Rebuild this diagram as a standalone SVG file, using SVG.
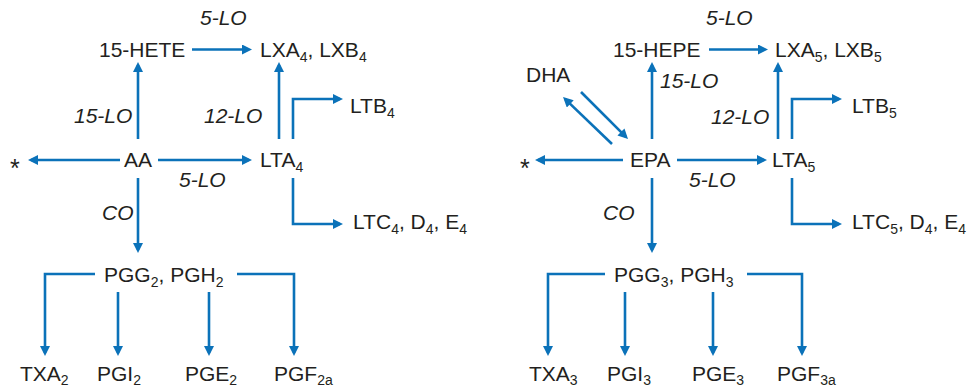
<svg xmlns="http://www.w3.org/2000/svg" width="973" height="388" viewBox="0 0 973 388">
  <style>
    .t { font-family: "Liberation Sans", Arial, sans-serif; font-size: 21px; fill: #231f20; }
    .e { font-family: "Liberation Sans", Arial, sans-serif; font-size: 21px; font-style: italic; fill: #231f20; }
    .a { font-family: "Liberation Sans", Arial, sans-serif; font-size: 25px; fill: #231f20; }
    .s { font-size: 14px; }
    .c { fill: none; stroke: #0b72b9; stroke-width: 2.6; marker-end: url(#ah); }
  </style>
  <defs>
    <marker id="ah" viewBox="0 0 10 10" markerWidth="10" markerHeight="10" markerUnits="userSpaceOnUse" refX="7" refY="5" orient="auto">
      <path d="M0,0 L10,5 L0,10 z" fill="#0b72b9"/>
    </marker>
  </defs>

  <!-- arachidonic acid (n-6) series -->
  <g id="n-aa"><text class="t" x="124" y="167">AA</text></g>
  <g id="n-star1"><text class="a" x="10" y="177">*</text></g>
  <g id="n-15hete"><text class="t" x="99" y="57">15-HETE</text></g>
  <g id="n-lxa4"><text class="t" x="260" y="57">LXA<tspan class="s" dy="5">4</tspan><tspan dy="-5">, LXB</tspan><tspan class="s" dy="5">4</tspan></text></g>
  <g id="n-lta4"><text class="t" x="260" y="167">LTA<tspan class="s" dy="5">4</tspan></text></g>
  <g id="n-ltb4"><text class="t" x="350" y="113">LTB<tspan class="s" dy="5">4</tspan></text></g>
  <g id="n-ltc4"><text class="t" x="353" y="229">LTC<tspan class="s" dy="5">4</tspan><tspan dy="-5">, D</tspan><tspan class="s" dy="5">4</tspan><tspan dy="-5">, E</tspan><tspan class="s" dy="5">4</tspan></text></g>
  <g id="n-pgg2"><text class="t" x="104" y="282">PGG<tspan class="s" dy="5">2</tspan><tspan dy="-5">, PGH</tspan><tspan class="s" dy="5">2</tspan></text></g>
  <g id="n-txa2"><text class="t" x="20" y="381">TXA<tspan class="s" dy="4">2</tspan></text></g>
  <g id="n-pgi2"><text class="t" x="97" y="381">PGI<tspan class="s" dy="4">2</tspan></text></g>
  <g id="n-pge2"><text class="t" x="185" y="381">PGE<tspan class="s" dy="4">2</tspan></text></g>
  <g id="n-pgf2a"><text class="t" x="274" y="381">PGF<tspan class="s" dy="4">2a</tspan></text></g>

  <!-- eicosapentaenoic acid (n-3) series -->
  <g id="n-epa"><text class="t" x="630" y="167">EPA</text></g>
  <g id="n-star2"><text class="a" x="520" y="177">*</text></g>
  <g id="n-dha"><text class="t" x="526" y="82">DHA</text></g>
  <g id="n-15hepe"><text class="t" x="613" y="57">15-HEPE</text></g>
  <g id="n-lxa5"><text class="t" x="775" y="57">LXA<tspan class="s" dy="5">5</tspan><tspan dy="-5">, LXB</tspan><tspan class="s" dy="5">5</tspan></text></g>
  <g id="n-lta5"><text class="t" x="772" y="167">LTA<tspan class="s" dy="5">5</tspan></text></g>
  <g id="n-ltb5"><text class="t" x="852" y="113">LTB<tspan class="s" dy="5">5</tspan></text></g>
  <g id="n-ltc5"><text class="t" x="852" y="229">LTC<tspan class="s" dy="5">5</tspan><tspan dy="-5">, D</tspan><tspan class="s" dy="5">4</tspan><tspan dy="-5">, E</tspan><tspan class="s" dy="5">4</tspan></text></g>
  <g id="n-pgg3"><text class="t" x="614" y="282">PGG<tspan class="s" dy="5">3</tspan><tspan dy="-5">, PGH</tspan><tspan class="s" dy="5">3</tspan></text></g>
  <g id="n-txa3"><text class="t" x="529" y="381">TXA<tspan class="s" dy="4">3</tspan></text></g>
  <g id="n-pgi3"><text class="t" x="607" y="381">PGI<tspan class="s" dy="4">3</tspan></text></g>
  <g id="n-pge3"><text class="t" x="692" y="381">PGE<tspan class="s" dy="4">3</tspan></text></g>
  <g id="n-pgf3a"><text class="t" x="777" y="381">PGF<tspan class="s" dy="4">3a</tspan></text></g>

  <!-- enzyme labels -->
  <g id="labels">
    <text class="e" x="200" y="25">5-LO</text>
    <text class="e" x="74" y="123">15-LO</text>
    <text class="e" x="204" y="123">12-LO</text>
    <text class="e" x="179" y="187">5-LO</text>
    <text class="e" x="102" y="220">CO</text>
    <text class="e" x="706" y="25">5-LO</text>
    <text class="e" x="660" y="88">15-LO</text>
    <text class="e" x="711" y="124">12-LO</text>
    <text class="e" x="689" y="187">5-LO</text>
    <text class="e" x="603" y="220">CO</text>
  </g>

  <!-- connectors -->
  <g id="connectors">
    <!-- left series -->
    <path class="c" d="M192,49.5 H249"/>
    <path class="c" d="M138,139 V65"/>
    <path class="c" d="M279,139 V65"/>
    <path class="c" d="M293,139 V99 H340"/>
    <path class="c" d="M120,160 H31"/>
    <path class="c" d="M158,160 H249"/>
    <path class="c" d="M138,178 V250"/>
    <path class="c" d="M293,178 V224 H340"/>
    <path class="c" d="M95,274 H45 V353"/>
    <path class="c" d="M237,274 H294 V353"/>
    <path class="c" d="M118,292 V353"/>
    <path class="c" d="M209,292 V353"/>
    <!-- right series -->
    <path class="c" d="M709,49.5 H765"/>
    <path class="c" d="M652,139 V65"/>
    <path class="c" d="M778,139 V65"/>
    <path class="c" d="M792,139 V99 H839"/>
    <path class="c" d="M581,92 L625.9,136.9"/>
    <path class="c" d="M612,144 L565.2,99.1"/>
    <path class="c" d="M623,160 H538"/>
    <path class="c" d="M677,160 H764"/>
    <path class="c" d="M652,178 V250"/>
    <path class="c" d="M792,178 V224 H839"/>
    <path class="c" d="M605,274 H548 V353"/>
    <path class="c" d="M747,274 H802 V353"/>
    <path class="c" d="M625,292 V353"/>
    <path class="c" d="M713,292 V353"/>
  </g>
</svg>
